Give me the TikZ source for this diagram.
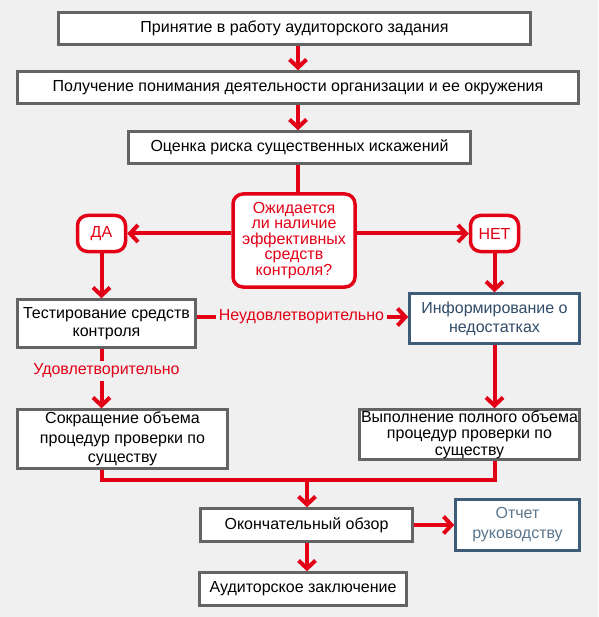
\documentclass[tikz,border=0pt]{standalone}
\usepackage{fontspec}
\setmainfont{Liberation Sans}
\usetikzlibrary{arrows.meta}
\definecolor{myred}{RGB}{227,0,22}
\definecolor{boxgray}{RGB}{100,100,100}
\definecolor{slate}{RGB}{62,92,120}
\definecolor{slatetext}{RGB}{48,76,104}
\definecolor{bg}{RGB}{240,240,240}
\begin{document}
\begin{tikzpicture}[x=1pt,y=-1pt,
 base/.style={fill=white, align=center, inner sep=1pt, font=\fontsize{16}{18}\selectfont},
 graybox/.style={base, draw=boxgray, line width=2.5pt},
 bluebox/.style={base, draw=slate, line width=2.5pt, text=slatetext},
 redbox/.style={base, draw=myred, line width=3.5pt, rounded corners=10pt, text=myred},
 conn/.style={draw=myred, line width=4pt},
 arr/.style={conn, -{Straight Barb[length=8pt,width=17pt]}},
 lbl/.style={text=myred, font=\fontsize{16}{18}\selectfont, inner sep=3pt}
]
\fill[bg] (0,0) rectangle (598,617);
\useasboundingbox (0,0) rectangle (598,617);

\node[graybox, minimum width=472pt, minimum height=32pt] (b1) at (294.5,28.5) {\raisebox{1.5pt}{Принятие в работу аудиторского задания}};
\node[graybox, minimum width=561pt, minimum height=32pt] (b2) at (298,87.5) {\raisebox{1pt}{Получение понимания деятельности организации и ее окружения}};
\node[graybox, minimum width=342pt, minimum height=32pt] (b3) at (299.5,147.5) {\raisebox{1.5pt}{Оценка риска существенных искажений}};
\node[redbox, minimum width=122pt, minimum height=93pt, font=\fontsize{16}{15.5}\selectfont] (dec) at (294,240.5) {Ожидается\\ли наличие\\эффективных\\средств\\контроля?};
\node[redbox, minimum width=48pt, minimum height=36pt] (da) at (101.5,233.5) {ДА};
\node[redbox, minimum width=48pt, minimum height=36pt] (net) at (494.5,233.5) {НЕТ};
\node[graybox, minimum width=178pt, minimum height=48pt] (test) at (106.5,323.5) {Тестирование средств\\контроля};
\node[bluebox, minimum width=170pt, minimum height=50pt, font=\fontsize{16}{19}\selectfont] (inf) at (494.5,318.5) {Информирование о\\недостатках};
\node[graybox, minimum width=210pt, minimum height=59pt, font=\fontsize{16}{19.5}\selectfont] (red) at (122.5,439) {Сокращение объема\\процедур проверки по\\существу};
\node[graybox, minimum width=220pt, minimum height=50pt, font=\fontsize{16}{16.5}\selectfont] (full) at (469.5,434.5) {Выполнение полного объема\\процедур проверки по\\существу};
\node[graybox, minimum width=212pt, minimum height=33pt] (fin) at (306.5,525) {\raisebox{1.5pt}{Окончательный обзор}};
\node[bluebox, minimum width=124pt, minimum height=51pt, font=\fontsize{16}{20}\selectfont, text=slate!85!white] (rep) at (517.5,525) {Отчет\\руководству};
\node[graybox, minimum width=207pt, minimum height=33pt] (aud) at (303,589) {Аудиторское заключение};

\node[lbl] (neud) at (301.5,317) {Неудовлетворительно};
\node[lbl] (udov) at (106.5,371) {Удовлетворительно};

\coordinate (c1) at (298,0);
\draw[arr] (b1.south -| c1) -- (b2.north -| c1);
\draw[arr] (b2.south -| c1) -- (b3.north -| c1);
\draw[conn] (b3.south -| c1) -- (dec.north -| c1);
\draw[arr] (dec.west |- da) -- (da.east);
\draw[arr] (dec.east |- net) -- (net.west);
\draw[arr] (da.south) -- (test.north -| da);
\draw[arr] (net.south) -- (inf.north -| net);
\draw[conn] (test.east |- neud) -- (neud.west);
\draw[arr] (neud.east) -- (inf.west |- neud);
\draw[conn] (test.south -| da) -- (udov.north -| da);
\draw[arr] (udov.south -| da) -- (red.north -| da);
\draw[arr] (inf.south -| net) -- (full.north -| net);
\coordinate (m) at (307,480);
\draw[conn] (red.south -| da) |- (m) -| (full.south -| net);
\draw[arr] (m) -- (fin.north -| m);
\draw[arr] (fin.south -| m) -- (aud.north -| m);
\draw[arr] (fin.east) -- (rep.west |- fin);
\end{tikzpicture}
\end{document}
